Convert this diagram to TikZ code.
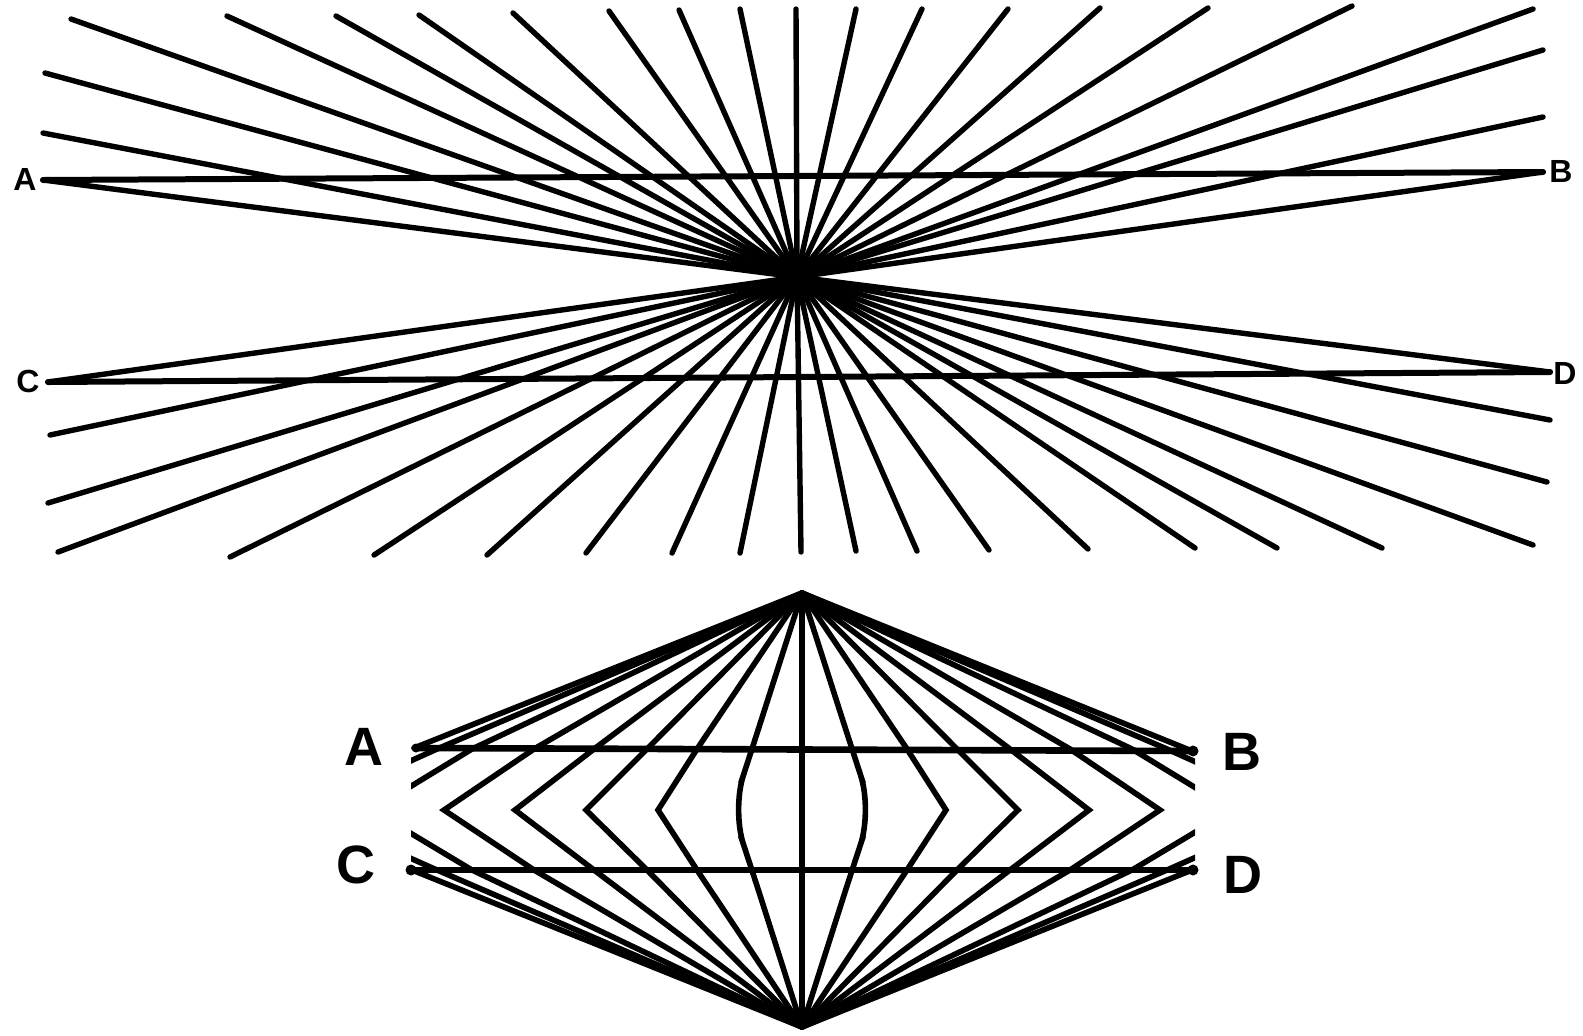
\documentclass[tikz,border=0pt]{standalone}
\usepackage{fontspec}
\setmainfont{Liberation Sans}
\begin{document}
\begin{tikzpicture}[x=0.5pt,y=-0.5pt,
  ray/.style={line width=2.7pt,line cap=round,line join=round},
  chev/.style={line width=2.8pt,line cap=round,line join=miter},
  hline/.style={line width=3.3pt,line cap=round},
  lbltop/.style={font=\bfseries\fontsize{16}{16}\selectfont,inner sep=0pt},
  lblbot/.style={font=\bfseries\fontsize{27}{27}\selectfont,inner sep=0pt}]
\fill[white] (0,0) rectangle (1583,1035);
\useasboundingbox (0,0) rectangle (1583,1035);

% ---------- upper figure: rays through one centre ----------
\coordinate (O) at (797,277);
\foreach \a/\b/\c/\d in {45/73/1547/482, 43/133/1550/420, 43/180/1550/372,
  71/19/1533/545, 227/16/1382/548, 336/16/1277/548, 419/15/1195/548,
  513/13/1088/549, 609/11/989/550, 679/10/917/551, 740/9/856/551,
  796/9/801/552, 856/9/740/553, 922/9/672/553, 1008/9/586/553,
  1100/8/487/555, 1208/8/374/555, 1352/6/230/557, 1533/9/58/552,
  1543/50/48/503, 1543/117/50/435, 1543/172/48/382}
  \draw[ray] (\a,\b) -- (O) -- (\c,\d);
\coordinate (A1) at (43,180);  \coordinate (B1) at (1543,172);
\coordinate (C1) at (48,382);  \coordinate (D1) at (1550,372);
\draw[ray,line width=3pt] (A1) -- (B1);
\draw[ray,line width=3pt] (C1) -- (D1);
\node[lbltop] (la1) at (25,179) {A};
\node[lbltop] (lb1) at (1561,171) {B};
\node[lbltop] (lc1) at (28,381) {C};
\node[lbltop] (ld1) at (1565,373) {D};

% ---------- lower figure: chevrons between two apexes ----------
\coordinate (T) at (802,593);
\coordinate (Bt) at (802,1027);
\begin{scope}
  \clip (411,560) rectangle (1195,1035);
  \draw[chev,rounded corners=18pt] (T) -- (752,749) -- (732,810) -- (752,870) -- (Bt);
  \draw[chev,rounded corners=18pt] (T) -- (852,749) -- (872,810) -- (852,870) -- (Bt);
  \foreach \c/\v in {105/144, 155/216, 208/287, 268/358, 330/430, 365/500} {
    \draw[chev] (T) -- (802-\c,749) -- (802-\v,810) -- (802-\c,870) -- (Bt);
    \draw[chev] (T) -- (802+\c,749) -- (802+\v,810) -- (802+\c,870) -- (Bt);
  }
  \draw[chev] (T) -- (414,748);
  \draw[chev] (T) -- (1192,751);
  \draw[chev] (Bt) -- (412,870);
  \draw[chev] (Bt) -- (1192,870);
\end{scope}
\draw[chev] (T) -- (Bt);
\coordinate (A2) at (416,748); \coordinate (B2) at (1193,751);
\coordinate (C2) at (411,870); \coordinate (D2) at (1193,870);
\draw[hline] (A2) -- (B2);
\draw[hline] (C2) -- (D2);
\fill (A2) circle (4.5); \fill (B2) circle (5.5);
\fill (C2) circle (5.5); \fill (D2) circle (5.5);
\node[lblbot] (la2) at (364,747) {A};
\node[lblbot] (lb2) at (1242,752) {B};
\node[lblbot] (lc2) at (356,865) {C};
\node[lblbot] (ld2) at (1243,875) {D};
\end{tikzpicture}
\end{document}
